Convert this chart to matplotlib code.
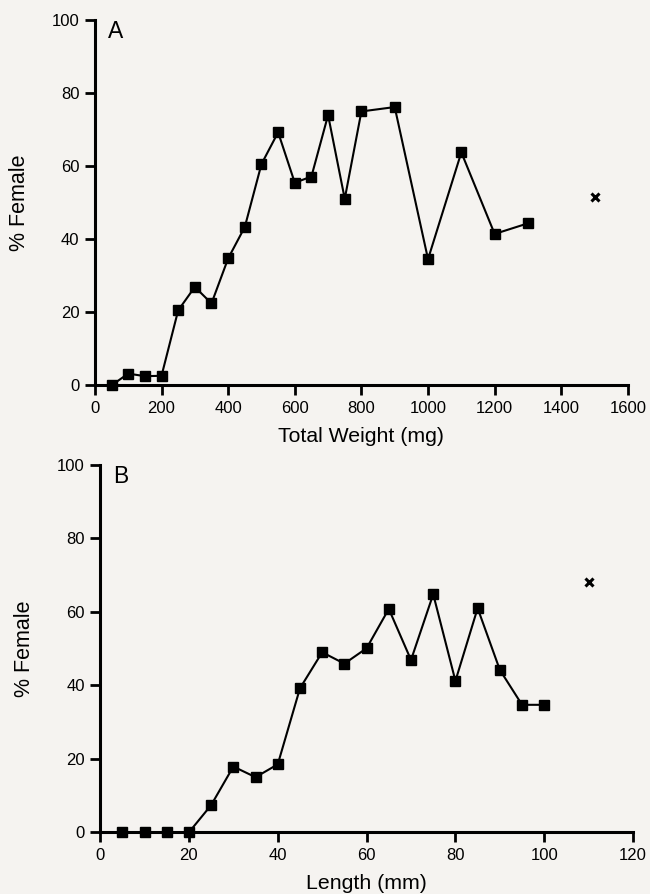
import matplotlib
matplotlib.use("Agg")
import matplotlib.pyplot as plt

# Panel A: % female vs total weight
weight_mg = [50, 100, 150, 200, 250, 300, 350, 400, 450, 500, 550, 600, 650,
             700, 750, 800, 900, 1000, 1100, 1200, 1300]
female_a = [0.0, 3.2, 2.5, 2.6, 20.5, 26.9, 22.4, 34.7, 43.3, 60.5, 69.2, 55.4,
            57.1, 73.9, 51.0, 74.9, 76.1, 34.5, 63.7, 41.4, 44.3]
extra_a = (1500, 51.6)

# Panel B: % female vs length
length_mm = [5, 10, 15, 20, 25, 30, 35, 40, 45, 50, 55, 60, 65, 70, 75, 80,
             85, 90, 95, 100]
female_b = [0.0, 0.0, 0.0, 0.0, 7.4, 17.9, 15.0, 18.5, 39.2, 49.0, 45.9, 50.1,
            60.8, 46.9, 64.8, 41.2, 61.0, 44.2, 34.7, 34.7]
extra_b = (110, 68.0)

plt.rcParams["font.family"] = ["Liberation Sans", "DejaVu Sans"]
bg = "#f5f3f0"

fig = plt.figure(figsize=(6.5, 8.94), dpi=100, facecolor=bg)
ax_a = fig.add_axes([0.146, 0.569, 0.820, 0.409])
ax_b = fig.add_axes([0.154, 0.069, 0.820, 0.411])


def style(ax, x, y, extra, xmax, xstep, xlabel, letter):
    ax.set_facecolor(bg)
    ax.plot(x, y, "-", color="black", lw=1.5, marker="s", ms=7,
            clip_on=False, zorder=3)
    ax.plot(*extra, marker="x", color="black", ms=5.5, mew=2.2, ls="none")
    ax.set_xlim(0, xmax)
    ax.set_ylim(0, 100)
    ax.set_xticks(range(0, xmax + 1, xstep))
    ax.set_yticks(range(0, 101, 20))
    for s in ["top", "right"]:
        ax.spines[s].set_visible(False)
    for s in ["left", "bottom"]:
        ax.spines[s].set_linewidth(2.2)
    ax.tick_params(axis="both", direction="out", width=2, length=7,
                   labelsize=12, pad=4)
    ax.set_ylabel("% Female", fontsize=15.5, labelpad=16)
    ax.set_xlabel(xlabel, fontsize=15.3, labelpad=8)
    ax.text(0.025, 1.0, letter, transform=ax.transAxes, fontsize=16.5,
            va="top", ha="left")


style(ax_a, weight_mg, female_a, extra_a, 1600, 200, "Total Weight (mg)", "A")
style(ax_b, length_mm, female_b, extra_b, 120, 20, "Length (mm)", "B")

fig.savefig("out.png", dpi=100, facecolor=bg)
